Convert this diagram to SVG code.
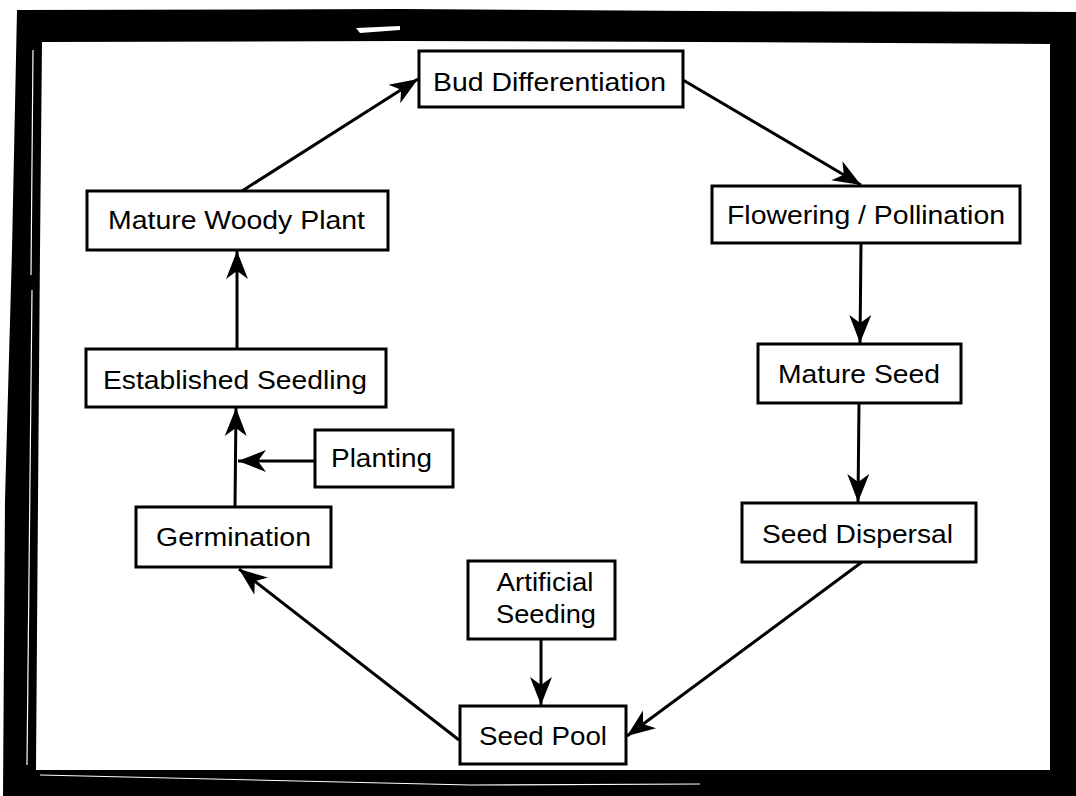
<svg xmlns="http://www.w3.org/2000/svg" width="1076" height="796" viewBox="0 0 1076 796">
  <style>
    .box { fill: #ffffff; stroke: #000000; stroke-width: 3; }
    .lbl { font-family: "Liberation Sans", Arial, Helvetica, sans-serif; font-size: 26px; fill: #000000; text-anchor: middle; }
    .edge { fill: none; stroke: #000000; stroke-width: 3; marker-end: url(#ah); }
  </style>
  <defs>
    <marker id="ah" markerUnits="userSpaceOnUse" markerWidth="32" markerHeight="26" viewBox="-30 -13 32 26" refX="0" refY="0" orient="auto">
      <path d="M0,0 L-28,-11 L-20,0 L-28,11 Z" fill="#000000"/>
    </marker>
  </defs>

  <rect x="0" y="0" width="1076" height="796" fill="#ffffff"/>

  <!-- heavy black frame -->
  <g id="frame">
    <path fill="#000000" fill-rule="evenodd"
          d="M17,10 L400,9 L700,11 L1076,12 L1076,796 L3,796 L5,500 L12,250 Z
             M42,42 L400,41 L700,42 L1050,44 L1050,770 L36,770 L38,500 L40,250 Z"/>
    <!-- worn streaks in the frame -->
    <path d="M33,50 L31,275 M32,290 L27,765" stroke="#ffffff" stroke-width="1.2" fill="none"/>
    <path d="M356,28 L400,26 L400,30 L360,33 Z" fill="#ffffff"/>
    <path d="M40,775 L470,785 L700,784" stroke="#ffffff" stroke-width="1.2" fill="none"/>
  </g>

  <!-- connectors -->
  <g id="connectors">
    <path class="edge" d="M242,191 L418,79"/>
    <path class="edge" d="M683,80 L861,185"/>
    <path class="edge" d="M861,243 L860,343"/>
    <path class="edge" d="M859,403 L858,502"/>
    <path class="edge" d="M862,562 L627,736"/>
    <path class="edge" d="M459,740 L239,569"/>
    <path class="edge" d="M541,639 L541,705"/>
    <path class="edge" d="M235,507 L236,408"/>
    <path class="edge" d="M315,461 L238,461"/>
    <path class="edge" d="M237,349 L237,251"/>
  </g>

  <g id="bud-differentiation">
    <rect class="box" x="419" y="51" width="264" height="56"/>
    <text class="lbl" x="549.5" y="91" textLength="233" lengthAdjust="spacingAndGlyphs">Bud Differentiation</text>
  </g>
  <g id="flowering-pollination">
    <rect class="box" x="712" y="186" width="308" height="57"/>
    <text class="lbl" x="866" y="224" textLength="278" lengthAdjust="spacingAndGlyphs">Flowering / Pollination</text>
  </g>
  <g id="mature-woody-plant">
    <rect class="box" x="87" y="191" width="301" height="59"/>
    <text class="lbl" x="236.5" y="229" textLength="257" lengthAdjust="spacingAndGlyphs">Mature Woody Plant</text>
  </g>
  <g id="established-seedling">
    <rect class="box" x="86" y="349" width="300" height="58"/>
    <text class="lbl" x="235" y="389" textLength="264" lengthAdjust="spacingAndGlyphs">Established Seedling</text>
  </g>
  <g id="planting">
    <rect class="box" x="315" y="430" width="138" height="57"/>
    <text class="lbl" x="381.5" y="467" textLength="101" lengthAdjust="spacingAndGlyphs">Planting</text>
  </g>
  <g id="germination">
    <rect class="box" x="136" y="507" width="195" height="60"/>
    <text class="lbl" x="233.5" y="546" textLength="155" lengthAdjust="spacingAndGlyphs">Germination</text>
  </g>
  <g id="mature-seed">
    <rect class="box" x="758" y="344" width="203" height="59"/>
    <text class="lbl" x="859" y="383" textLength="162" lengthAdjust="spacingAndGlyphs">Mature Seed</text>
  </g>
  <g id="seed-dispersal">
    <rect class="box" x="742" y="503" width="234" height="59"/>
    <text class="lbl" x="857.5" y="543" textLength="191" lengthAdjust="spacingAndGlyphs">Seed Dispersal</text>
  </g>
  <g id="artificial-seeding">
    <rect class="box" x="468" y="561" width="147" height="78"/>
    <text class="lbl" x="545" y="591" textLength="97" lengthAdjust="spacingAndGlyphs">Artificial</text>
    <text class="lbl" x="546" y="623" textLength="100" lengthAdjust="spacingAndGlyphs">Seeding</text>
  </g>
  <g id="seed-pool">
    <rect class="box" x="460" y="706" width="166" height="58"/>
    <text class="lbl" x="543" y="745" textLength="128" lengthAdjust="spacingAndGlyphs">Seed Pool</text>
  </g>
</svg>
